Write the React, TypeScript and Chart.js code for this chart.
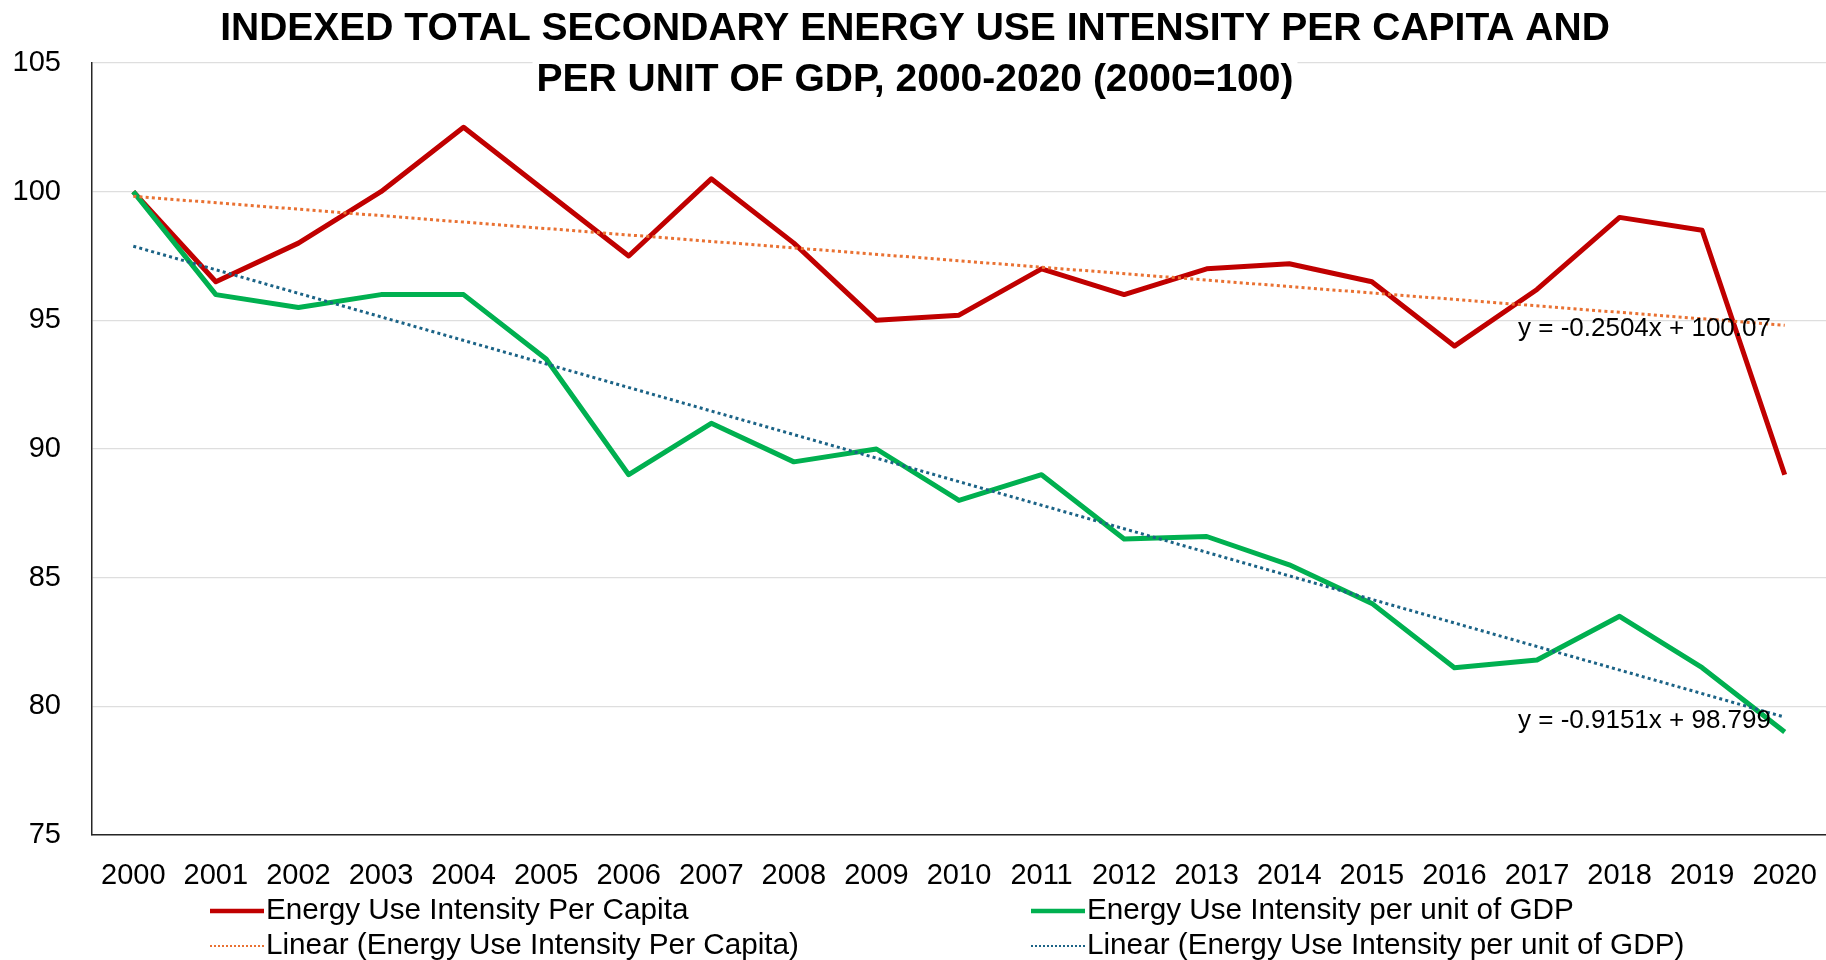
import React, { useEffect, useRef } from 'react';
import { Chart, registerables } from 'chart.js';

Chart.register(...registerables);

const FONT = '"Liberation Sans", Arial, Helvetica, sans-serif';

const titleLines = [
  'INDEXED TOTAL SECONDARY ENERGY USE INTENSITY PER CAPITA AND',
  'PER UNIT OF GDP, 2000-2020 (2000=100)',
];

const years = [
  '2000', '2001', '2002', '2003', '2004', '2005', '2006', '2007', '2008', '2009', '2010',
  '2011', '2012', '2013', '2014', '2015', '2016', '2017', '2018', '2019', '2020',
];

const perCapita = [
  100.0, 96.5, 98.0, 100.0, 102.5, 100.0, 97.5, 100.5, 98.0, 95.0, 95.2,
  97.0, 96.0, 97.0, 97.2, 96.5, 94.0, 96.2, 99.0, 98.5, 89.0,
];

const perGdp = [
  100.0, 96.0, 95.5, 96.0, 96.0, 93.5, 89.0, 91.0, 89.5, 90.0, 88.0,
  89.0, 86.5, 86.6, 85.5, 84.0, 81.5, 81.8, 83.5, 81.5, 79.0,
];

// Linear trendline end values (first year, last year)
const trendPerCapitaEnds = [99.82, 94.81];
const trendPerGdpEnds = [97.88, 79.58];

const equationPerCapita = 'y = -0.2504x + 100.07';
const equationPerGdp = 'y = -0.9151x + 98.799';

const yTicks = [75, 80, 85, 90, 95, 100, 105];

const seriesNames = [
  'Energy Use Intensity Per Capita',
  'Energy Use Intensity per unit of GDP',
  'Linear (Energy Use Intensity Per Capita)',
  'Linear (Energy Use Intensity per unit of GDP)',
];

const RED = '#C00000';
const GREEN = '#00B050';
const ORANGE = '#E97132';
const BLUE = '#1B6386';

function endsToSeries(ends: number[]) {
  return years.map((_, i) => (i === 0 ? ends[0] : i === years.length - 1 ? ends[1] : null));
}

const overlayPlugin = {
  id: 'overlay',
  afterDatasetsDraw(chart: any) {
    const ctx = chart.ctx as CanvasRenderingContext2D;
    ctx.save();
    ctx.font = `26px ${FONT}`;
    ctx.fillStyle = '#000';
    ctx.textAlign = 'left';
    ctx.textBaseline = 'middle';
    ctx.fillText(equationPerCapita, 1518, 329);
    ctx.fillText(equationPerGdp, 1518, 721);
    ctx.restore();
  },
  afterDraw(chart: any) {
    const ctx = chart.ctx as CanvasRenderingContext2D;
    ctx.save();
    // Title
    ctx.font = `bold 39px ${FONT}`;
    ctx.textAlign = 'center';
    ctx.textBaseline = 'middle';
    const cx = 915;
    const ys = [29, 80];
    titleLines.forEach((t, i) => {
      const w = ctx.measureText(t).width;
      ctx.fillStyle = '#fff';
      ctx.fillRect(cx - w / 2 - 4, ys[i] - 22, w + 8, 44);
      ctx.fillStyle = '#000';
      ctx.fillText(t, cx, ys[i]);
    });

    // Legend
    const items = [
      { x: 210, y: 911, color: RED, dotted: false },
      { x: 1031, y: 911, color: GREEN, dotted: false },
      { x: 210, y: 946, color: ORANGE, dotted: true },
      { x: 1031, y: 946, color: BLUE, dotted: true },
    ];
    ctx.font = `29.7px ${FONT}`;
    ctx.textAlign = 'left';
    ctx.textBaseline = 'middle';
    items.forEach((it, i) => {
      ctx.beginPath();
      ctx.strokeStyle = it.color;
      ctx.lineWidth = it.dotted ? 2 : 4.5;
      ctx.setLineDash(it.dotted ? [2, 2] : []);
      ctx.moveTo(it.x, it.y);
      ctx.lineTo(it.x + 54, it.y);
      ctx.stroke();
      ctx.setLineDash([]);
      ctx.fillStyle = '#000';
      ctx.fillText(seriesNames[i], it.x + 56, it.y);
    });
    ctx.restore();
  },
};

export default function App() {
  const canvasRef = useRef<HTMLCanvasElement | null>(null);

  useEffect(() => {
    if (!canvasRef.current) return;
    const chart = new Chart(canvasRef.current, {
      type: 'line',
      data: {
        labels: years,
        datasets: [
          {
            label: seriesNames[0],
            data: perCapita,
            borderColor: RED,
            backgroundColor: RED,
            borderWidth: 5,
            pointRadius: 0,
            tension: 0,
            borderJoinStyle: 'round',
            order: 4,
          },
          {
            label: seriesNames[1],
            data: perGdp,
            borderColor: GREEN,
            backgroundColor: GREEN,
            borderWidth: 5,
            pointRadius: 0,
            tension: 0,
            borderJoinStyle: 'round',
            order: 3,
          },
          {
            label: seriesNames[2],
            data: endsToSeries(trendPerCapitaEnds),
            borderColor: ORANGE,
            backgroundColor: ORANGE,
            borderWidth: 3,
            borderDash: [3, 3.2],
            pointRadius: 0,
            spanGaps: true,
            order: 2,
          },
          {
            label: seriesNames[3],
            data: endsToSeries(trendPerGdpEnds),
            borderColor: BLUE,
            backgroundColor: BLUE,
            borderWidth: 3,
            borderDash: [3, 3.2],
            pointRadius: 0,
            spanGaps: true,
            order: 1,
          },
        ],
      },
      options: {
        responsive: false,
        animation: false,
        layout: { padding: { top: 63, right: 0, bottom: 0, left: 0 } },
        plugins: {
          legend: { display: false },
          title: { display: false },
          tooltip: { enabled: false },
        },
        scales: {
          x: {
            type: 'category',
            offset: true,
            grid: { display: false, drawTicks: false },
            border: { display: true, color: '#262626', width: 1.5 },
            ticks: {
              color: '#000',
              font: { family: FONT, size: 29 },
              padding: 24,
              maxRotation: 0,
              autoSkip: false,
            },
            afterFit(scale: any) {
              scale.height = 125;
              scale.paddingLeft = 0;
              scale.paddingRight = 0;
            },
          },
          y: {
            min: 75,
            max: 105,
            afterBuildTicks(scale: any) {
              scale.ticks = yTicks.map((v) => ({ value: v }));
            },
            grid: { color: '#dedede', lineWidth: 1.3, drawTicks: false },
            border: { display: true, color: '#262626', width: 1.5 },
            ticks: {
              color: '#000',
              font: { family: FONT, size: 29 },
              padding: 31,
            },
            afterFit(scale: any) {
              scale.width = 92;
              scale.paddingTop = 0;
              scale.paddingBottom = 0;
            },
          },
        },
      },
      plugins: [overlayPlugin],
    } as any);
    return () => chart.destroy();
  }, []);

  return (
    <div style={{ position: 'fixed', left: 0, top: 0, width: 1826, height: 960, background: '#fff' }}>
      <canvas ref={canvasRef} width={1826} height={960} style={{ display: 'block', width: 1826, height: 960 }} />
    </div>
  );
}
